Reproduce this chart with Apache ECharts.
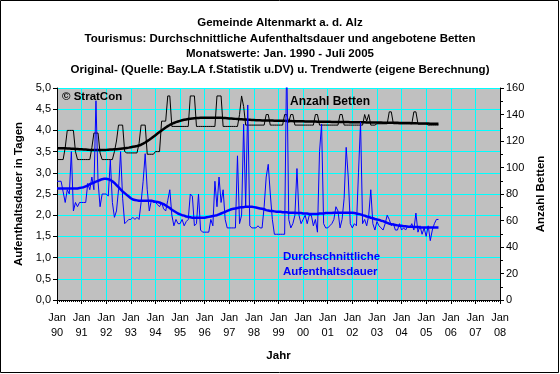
<!DOCTYPE html>
<html>
<head>
<meta charset="utf-8">
<script src="https://cdn.jsdelivr.net/npm/echarts@6/dist/echarts.min.js"></script>
<style>
html,body{margin:0;padding:0;background:#fff;}
#chart{width:560px;height:374px;}
</style>
</head>
<body>
<div id="chart"></div>
<script>
// ---- Data (monthly, Jan 1990 .. Jul 2005) ----
const yearLabels = ['90','91','92','93','94','95','96','97','98','99','00','01','02','03','04','05','06','07','08'];

// Durchschnittliche Aufenthaltsdauer (Tage), Originalwerte
const dauer = [
  2.8,2.8,2.8,2.55,2.3,2.6,2.5,3.5,2.1,2.3,2.2,2.3,        // 1990
  2.3,2.3,2.3,2.75,2.6,2.9,2.6,4.7,2.8,2.2,2.5,2.5,        // 1991
  2.5,2.45,3.3,2.3,1.95,2.1,2.6,3.5,2.4,1.8,1.85,1.9,      // 1992
  1.9,1.95,1.9,1.95,1.9,2.3,2.8,3.45,2.6,2.1,2.35,2.3,     // 1993
  2.3,2.25,2.2,2.3,2.15,2.1,2.35,2.6,2.0,1.75,1.9,1.8,     // 1994
  1.8,1.9,1.75,1.85,1.9,2.5,2.45,1.75,1.8,2.5,1.65,1.6,    // 1995
  1.6,1.6,1.6,1.9,1.75,2.8,2.2,2.9,2.3,2.6,1.9,1.7,        // 1996
  1.7,1.7,1.7,1.7,3.4,1.8,2.0,4.15,2.2,4.6,1.75,1.7,       // 1997
  1.7,1.7,1.75,1.7,1.7,2.2,2.9,3.2,2.5,1.9,1.55,1.55,      // 1998
  1.55,1.55,1.55,1.55,5.8,1.9,1.7,1.8,2.0,3.1,2.0,1.8,     // 1999
  1.9,2.0,1.8,2.0,2.0,1.75,1.9,1.6,3.5,4.15,1.8,1.7,       // 2000
  1.7,1.75,1.8,1.9,2.2,2.1,1.7,1.9,2.4,3.6,2.9,1.8,        // 2001
  1.7,1.8,1.75,3.0,4.2,1.8,1.9,1.75,2.0,2.6,1.8,1.65,      // 2002
  1.85,1.75,1.7,1.65,1.8,2.0,1.9,1.75,1.8,1.65,1.65,1.8,   // 2003
  1.65,1.7,1.65,1.75,1.7,1.8,1.65,2.05,1.6,1.75,1.55,1.7,  // 2004
  1.5,1.75,1.4,1.65,1.8,1.9,1.9                            // 2005
];

// Aufenthaltsdauer, Trendwerte
const dauerTrend = [
  2.63,2.63,2.63,2.63,2.63,2.63,2.63,2.63,2.63,2.63,2.63,2.64,
  2.65,2.66,2.68,2.70,2.73,2.75,2.77,2.79,2.81,2.83,2.85,2.86,
  2.86,2.85,2.83,2.80,2.76,2.71,2.66,2.61,2.56,2.52,2.48,2.44,
  2.40,2.37,2.36,2.35,2.34,2.34,2.34,2.34,2.34,2.34,2.34,2.33,
  2.32,2.31,2.30,2.28,2.26,2.23,2.20,2.17,2.13,2.10,2.07,2.04,
  2.02,2.00,1.99,1.97,1.96,1.95,1.94,1.94,1.94,1.94,1.94,1.94,
  1.94,1.95,1.96,1.97,1.98,1.99,2.00,2.02,2.04,2.06,2.08,2.10,
  2.12,2.14,2.15,2.16,2.17,2.18,2.19,2.19,2.20,2.20,2.20,2.20,
  2.19,2.18,2.17,2.16,2.15,2.14,2.12,2.11,2.10,2.10,2.09,2.08,
  2.08,2.08,2.07,2.07,2.07,2.06,2.06,2.06,2.06,2.05,2.05,2.05,
  2.04,2.04,2.04,2.03,2.03,2.03,2.03,2.03,2.04,2.04,2.04,2.05,
  2.05,2.05,2.05,2.06,2.06,2.06,2.06,2.06,2.06,2.06,2.06,2.06,
  2.06,2.05,2.04,2.03,2.02,2.00,1.99,1.97,1.96,1.94,1.93,1.91,
  1.90,1.89,1.87,1.86,1.84,1.82,1.80,1.79,1.78,1.77,1.76,1.75,
  1.75,1.74,1.74,1.73,1.73,1.73,1.72,1.72,1.72,1.71,1.71,1.71,
  1.71,1.71,1.71,1.71,1.71,1.71,1.71
];

// Anzahl Betten, Originalwerte
const betten = [
  106,106,106,106,115,128,128,128,128,112,106,106,   // 1990
  106,106,106,106,106,115,126,126,126,111,106,106,   // 1991
  106,106,106,106,112,120,132,132,132,112,111,111,   // 1992
  111,111,111,111,118,132,132,132,110,110,110,110,   // 1993
  112,112,112,135,135,135,154,154,131,131,131,131,   // 1994
  131,131,131,131,131,154,154,154,131,131,131,131,   // 1995
  131,131,131,131,131,131,154,154,154,131,131,131,   // 1996
  131,131,131,131,131,140,154,146,132,132,132,132,   // 1997
  132,132,132,132,132,132,140,140,132,132,132,132,   // 1998
  132,132,132,140,140,134,140,140,132,132,132,132,   // 1999
  132,132,132,132,132,132,140,140,132,132,132,132,   // 2000
  132,132,132,132,132,132,140,140,132,132,132,132,   // 2001
  132,132,132,132,132,132,140,135,140,132,132,132,   // 2002
  133,133,133,133,133,133,142,142,133,133,133,133,   // 2003
  133,133,133,133,133,133,142,142,133,133,133,133,   // 2004
  133,132,132,132,132,132,132                        // 2005
];

// Anzahl Betten, Trendwerte
const bettenTrend = [
  114.5,114.5,114.5,114.5,114.5,114.4,114.3,114.2,114.1,114.0,113.9,113.8,
  113.7,113.6,113.5,113.4,113.3,113.3,113.2,113.2,113.2,113.2,113.2,113.3,
  113.3,113.4,113.5,113.6,113.7,113.8,114.0,114.2,114.4,114.6,114.8,115.0,
  115.3,115.6,115.9,116.2,116.6,117.2,118.0,118.9,119.9,120.9,122.0,123.2,
  124.4,125.6,126.8,128.0,129.1,130.2,131.2,132.1,132.9,133.6,134.2,134.7,
  135.2,135.6,136.0,136.3,136.6,136.8,137.0,137.2,137.3,137.4,137.5,137.6,
  137.6,137.6,137.6,137.6,137.6,137.6,137.6,137.6,137.5,137.4,137.3,137.2,
  137.0,136.9,136.8,136.7,136.6,136.5,136.4,136.3,136.2,136.1,136.0,135.9,
  135.8,135.7,135.6,135.6,135.5,135.5,135.5,135.4,135.4,135.4,135.3,135.3,
  135.3,135.2,135.2,135.2,135.1,135.1,135.1,135.0,135.0,135.0,134.9,134.9,
  134.9,134.8,134.8,134.8,134.7,134.7,134.7,134.6,134.6,134.6,134.5,134.5,
  134.5,134.5,134.4,134.4,134.4,134.4,134.3,134.3,134.3,134.3,134.3,134.2,
  134.2,134.2,134.2,134.1,134.1,134.1,134.1,134.0,134.0,134.0,134.0,133.9,
  133.9,133.9,133.9,133.8,133.8,133.8,133.8,133.7,133.7,133.7,133.7,133.6,
  133.6,133.6,133.5,133.5,133.5,133.4,133.4,133.4,133.3,133.3,133.3,133.2,
  133.2,133.2,133.1,133.1,133.1,133.0,133.0
];

const titleLines = [
  'Gemeinde Altenmarkt a. d. Alz',
  'Tourismus: Durchschnittliche Aufenthaltsdauer und angebotene Betten',
  'Monatswerte: Jan. 1990 - Juli 2005',
  'Original- (Quelle: Bay.LA f.Statistik u.DV) u. Trendwerte (eigene Berechnung)'
];

// ---- Chart ----
const FONT = '"Liberation Sans", Arial, sans-serif';
const pairs = arr => arr.map((v, i) => [i, v]);

const chart = echarts.init(document.getElementById('chart'), null, {renderer: 'canvas'});
chart.setOption({
  animation: false,
  backgroundColor: '#ffffff',
  textStyle: {fontFamily: FONT},
  title: {
    text: titleLines.join('\n'),
    left: 'center',
    top: 10,
    textStyle: {fontFamily: FONT, fontSize: 11.5, fontWeight: 'bold', color: '#000', lineHeight: 15.6}
  },
  grid: {
    left: 57, top: 88, width: 443, height: 212,
    show: true, backgroundColor: '#C0C0C0', borderWidth: 0
  },
  xAxis: {
    type: 'value', min: 0, max: 216, interval: 12,
    name: 'Jahr', nameLocation: 'middle', nameGap: 50,
    nameTextStyle: {fontFamily: FONT, fontSize: 11.5, fontWeight: 'bold', color: '#000'},
    axisLine: {show: true, lineStyle: {color: '#000', width: 1}},
    axisTick: {show: true, length: 4, lineStyle: {color: '#000'}},
    minorTick: {show: true, splitNumber: 12, length: 2, lineStyle: {color: '#000'}},
    splitLine: {show: true, lineStyle: {color: '#00FFFF', width: 1}},
    axisLabel: {
      color: '#000', fontFamily: FONT, fontSize: 11, lineHeight: 15, margin: 10,
      formatter: v => 'Jan\n' + yearLabels[Math.round(v / 12)]
    }
  },
  yAxis: [
    {
      type: 'value', min: 0, max: 5, interval: 0.5, position: 'left',
      name: 'Aufenthaltsdauer in Tagen', nameLocation: 'middle', nameGap: 30, nameRotate: 90,
      nameTextStyle: {fontFamily: FONT, fontSize: 11.5, fontWeight: 'bold', color: '#000'},
      axisLine: {show: true, lineStyle: {color: '#000', width: 1}},
      axisTick: {show: true, length: 4, lineStyle: {color: '#000'}},
      splitLine: {show: true, lineStyle: {color: '#00FFFF', width: 1}},
      axisLabel: {color: '#000', fontFamily: FONT, fontSize: 11, margin: 6,
        formatter: v => v.toFixed(1).replace('.', ',')}
    },
    {
      type: 'value', min: 0, max: 160, interval: 20, position: 'right',
      name: 'Anzahl Betten', nameLocation: 'middle', nameGap: 35, nameRotate: 90,
      nameTextStyle: {fontFamily: FONT, fontSize: 11.5, fontWeight: 'bold', color: '#000'},
      axisLine: {show: true, lineStyle: {color: '#000', width: 1}},
      axisTick: {show: true, length: 4, lineStyle: {color: '#000'}},
      minorTick: {show: true, splitNumber: 2, length: 3, lineStyle: {color: '#000'}},
      splitLine: {show: false},
      axisLabel: {color: '#000', fontFamily: FONT, fontSize: 11, margin: 6}
    }
  ],
  series: [
    {name: 'Anzahl Betten', type: 'line', yAxisIndex: 1, data: pairs(betten),
      showSymbol: false, lineStyle: {color: '#000', width: 1}, itemStyle: {color: '#000'}, z: 2},
    {name: 'Betten Trend', type: 'line', yAxisIndex: 1, data: pairs(bettenTrend),
      showSymbol: false, lineStyle: {color: '#000', width: 2.5}, itemStyle: {color: '#000'}, z: 3},
    {name: 'Aufenthaltsdauer', type: 'line', yAxisIndex: 0, data: pairs(dauer),
      showSymbol: false, lineStyle: {color: '#0000FF', width: 1}, itemStyle: {color: '#0000FF'}, z: 4},
    {name: 'Aufenthaltsdauer Trend', type: 'line', yAxisIndex: 0, data: pairs(dauerTrend),
      showSymbol: false, lineStyle: {color: '#0000FF', width: 2.5}, itemStyle: {color: '#0000FF'}, z: 5}
  ],
  graphic: [
    {type: 'rect', shape: {x: 0.5, y: 0.5, width: 558, height: 372},
      style: {fill: null, stroke: '#000', lineWidth: 1}, silent: true, z: 100},
    {type: 'text', left: 62, top: 91, z: 50,
      style: {text: '© StratCon', fill: '#000', font: 'bold 11.5px ' + FONT}},
    {type: 'text', left: 290, top: 96, z: 50,
      style: {text: 'Anzahl Betten', fill: '#000', font: 'bold 12px ' + FONT}},
    {type: 'text', left: 283, top: 249, z: 50,
      style: {text: 'Durchschnittliche\nAufenthaltsdauer', fill: '#0000FF', font: 'bold 11.5px ' + FONT, lineHeight: 15}}
  ]
});
</script>
</body>
</html>
